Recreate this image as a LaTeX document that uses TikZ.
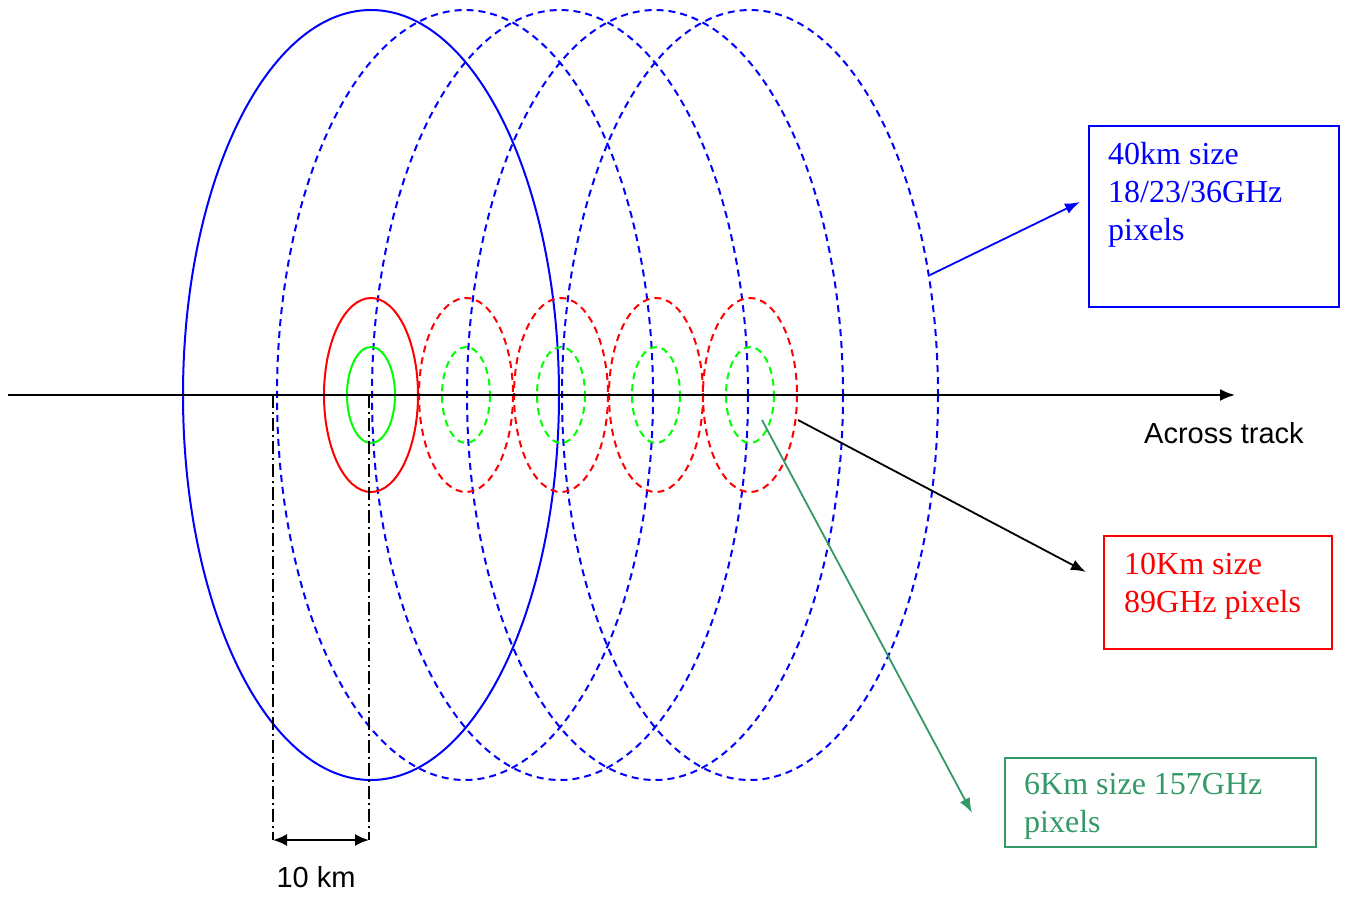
\documentclass[tikz,border=0pt]{standalone}
\usepackage{fontspec}
\setmainfont{Liberation Serif}
\newfontfamily\arialfont{Liberation Sans}
\usetikzlibrary{arrows.meta}

\definecolor{boxgreen}{RGB}{51,153,102}

\tikzset{
  trait/.style={line width=2pt},
  pointille/.style={trait, dash pattern=on 7pt off 5pt},
  tiret point/.style={line width=1.8pt, dash pattern=on 13pt off 4pt on 2pt off 4pt},
  fleche/.style={line width=1.8pt, -{Latex[length=15pt,width=11pt]}},
  boite/.style={draw, line width=1.8pt, anchor=north west, inner sep=0pt},
  legende/.style={font=\fontsize{32}{38}\selectfont, align=left, anchor=north west, inner sep=0pt},
  sans/.style={font=\arialfont\fontsize{29}{34}\selectfont, anchor=base, inner sep=0pt}
}

\begin{document}
\begin{tikzpicture}[x=1pt,y=-1pt]
  \useasboundingbox (0,0) rectangle (1345,900);

  % pixels 40 km
  \draw [blue, trait] (371,395) ellipse (188 and 385);
  \foreach \cx in {465,560,655,750}
    \draw [blue, pointille] (\cx,395) ellipse (188 and 385);

  % pixels 10 km et 6 km
  \draw [red, trait] (371,395) ellipse (47 and 97);
  \draw [green, trait] (371,395) ellipse (24 and 48);
  \foreach \cx in {466,561,656,750} {
    \draw [red, pointille] (\cx,395) ellipse (47 and 97);
    \draw [green, pointille] (\cx,395) ellipse (24 and 48);
  }

  % axe
  \coordinate (origine) at (8,395);
  \coordinate (bout) at (1235,395);
  \draw [trait, -{Latex[length=15pt,width=12pt]}] (origine) -- (bout);
  \node [sans] (track) at (1224,443) {Across track};

  % cote 10 km
  \coordinate (g0) at (273,395);
  \coordinate (g1) at (273,840);
  \coordinate (d0) at (369,395);
  \coordinate (d1) at (369,840);
  \draw [tiret point] (g0) -- (g1);
  \draw [tiret point] (d0) -- (d1);
  \draw [trait, {Latex[length=14pt,width=12pt]}-{Latex[length=14pt,width=12pt]}] (g1) -- (d1);
  \node [sans] (cote) at (316,887) {10 km};

  % legendes
  \node [boite, draw=blue, minimum width=250pt, minimum height=181pt] (bleu) at (1088,125) {};
  \node [legende, text=blue] (txtbleu) at (1108,142) {40km size\\18/23/36GHz\\pixels};
  \node [boite, draw=red, minimum width=228pt, minimum height=113pt] (rouge) at (1103,535) {};
  \node [legende, text=red] (txtrouge) at (1124,553) {10Km size\\89GHz pixels};
  \node [boite, draw=boxgreen, minimum width=311pt, minimum height=89pt] (vert) at (1004,757) {};
  \node [legende, text=boxgreen] (txtvert) at (1024,773) {6Km size 157GHz\\pixels};

  \coordinate (b0) at (930,275);
  \coordinate (b1) at (1080,202);
  \coordinate (r0) at (798,420);
  \coordinate (r1) at (1086,572);
  \coordinate (v0) at (762,420);
  \coordinate (v1) at (972,813);
  \draw [fleche, blue] (b0) -- (b1);
  \draw [fleche] (r0) -- (r1);
  \draw [fleche, boxgreen] (v0) -- (v1);
\end{tikzpicture}
\end{document}
